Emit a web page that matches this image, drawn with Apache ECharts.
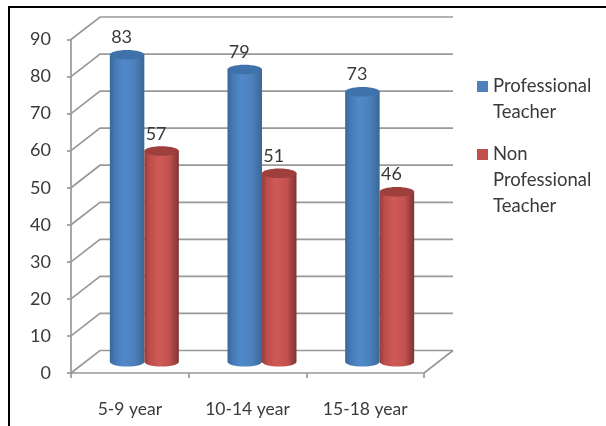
<!DOCTYPE html>
<html><head><meta charset="utf-8">
<style>html,body{margin:0;padding:0;background:#fff}#c{width:606px;height:426px;filter:blur(0.45px)}</style>
<script src="https://cdn.jsdelivr.net/npm/echarts@6/dist/echarts.min.js"></script>
</head><body><div id="c"></div>
<script>
var categories = ['5-9 year', '10-14 year', '15-18 year'];
var professional = [83, 79, 73];
var nonProfessional = [57, 51, 46];
var yTicks = [0, 10, 20, 30, 40, 50, 60, 70, 80, 90];
var seriesNames = ['Professional Teacher', 'Non Professional Teacher'];
var legendLines = [['Professional', 'Teacher'], ['Non', 'Professional', 'Teacher']];

var FONT = 'Lato';
var TXT = '#3a3a3a';
var GRID = '#999999';
var DX = 29, DY = -22.5, BAR = 34.5, RY = 4.8;

function cylinderRender(side, palette) {
  return function (params, api) {
    var cat = api.value(0), val = api.value(1);
    var top = api.coord([cat, val]), base = api.coord([cat, 0]);
    var cx = top[0] + DX / 2 + side * BAR / 2;
    var ty = top[1] + DY / 2 + 0.5, by = base[1] + DY / 2;
    var rx = BAR / 2;
    var k = 0.5523;
    var body = 'M' + (cx - rx) + ' ' + ty + ' L' + (cx - rx) + ' ' + by +
      ' C' + (cx - rx) + ' ' + (by + RY * k) + ' ' + (cx - rx * k) + ' ' + (by + RY) + ' ' + cx + ' ' + (by + RY) +
      ' C' + (cx + rx * k) + ' ' + (by + RY) + ' ' + (cx + rx) + ' ' + (by + RY * k) + ' ' + (cx + rx) + ' ' + by +
      ' L' + (cx + rx) + ' ' + ty + ' Z';
    return {
      type: 'group',
      children: [
        { type: 'path', shape: { pathData: body },
          style: { fill: { type: 'linear', x: 0, y: 0, x2: 1, y2: 0, colorStops: palette.body } } },
        { type: 'ellipse', shape: { cx: cx, cy: ty, rx: rx, ry: RY }, style: { fill: palette.top } },
        { type: 'text', x: cx - 5.5, y: top[1] - 28,
          style: { text: String(val), font: '18px ' + FONT, fill: TXT, align: 'center', verticalAlign: 'middle' } }
      ]
    };
  };
}

function wallRender(params, api) {
  var v = api.value(0);
  var maxCat = categories.length - 1;
  var a = api.coord([0, v]), b = api.coord([maxCat, v]);
  var half = api.size([1, 0])[0] / 2;
  var left = a[0] - half, right = b[0] + half, y = a[1];
  var style = { stroke: GRID, lineWidth: 1.7, fill: null };
  var kids = [
    { type: 'polyline', shape: { points: [[left, y], [left + DX, y + DY], [right + DX, y + DY]] }, style: style }
  ];
  if (v === 0) {
    kids.push({ type: 'line', shape: { x1: right, y1: y, x2: right + DX, y2: y + DY }, style: style });
  }
  return { type: 'group', children: kids };
}

// The swatch sits level with the first line: leading blank lines centre that line on it.
function legendText(name) {
  var lines = legendLines[seriesNames.indexOf(name)];
  return new Array(lines.length).join('\n') + lines.join('\n');
}

var chart = echarts.init(document.getElementById('c'), null, { renderer: 'canvas' });
chart.setOption({
  animation: false,
  backgroundColor: '#fff',
  grid: { left: 71, right: 182, top: 39.5, bottom: 53 },
  xAxis: {
    type: 'category', data: categories,
    axisLine: { lineStyle: { color: GRID, width: 1.7 } },
    axisTick: { show: true, length: 5, lineStyle: { color: GRID, width: 1.7 } },
    axisLabel: { margin: 27, color: TXT, fontFamily: FONT, fontSize: 17.5 }
  },
  yAxis: {
    type: 'value', min: 0, max: 90, interval: 10,
    axisLine: { show: true, lineStyle: { color: GRID, width: 1.7 } },
    axisTick: { show: true, length: 4, lineStyle: { color: GRID, width: 1.7 } },
    splitLine: { show: false },
    axisLabel: { margin: 20, color: TXT, fontFamily: FONT, fontSize: 18 }
  },
  legend: {
    orient: 'vertical', left: 477, top: 47.5, padding: 0,
    data: seriesNames, icon: 'rect', itemWidth: 11, itemHeight: 11, itemGap: -36,
    selectedMode: false, formatter: legendText,
    textStyle: { color: TXT, fontFamily: FONT, fontSize: 18.5, lineHeight: 26 }
  },
  series: [
    { type: 'custom', name: 'walls', renderItem: wallRender, data: yTicks.map(function (v) { return [v]; }),
      encode: { y: 0 }, silent: true, z: 1 },
    { type: 'custom', name: seriesNames[0], itemStyle: { color: '#4f81bd' }, z: 2,
      renderItem: cylinderRender(-1, {
        top: '#3f72aa',
        body: [{ offset: 0, color: '#38679a' }, { offset: 0.15, color: '#4679b4' }, { offset: 0.4, color: '#5089cb' },
               { offset: 0.72, color: '#4c80bc' }, { offset: 1, color: '#3a6896' }]
      }),
      data: professional.map(function (v, i) { return [i, v]; }), encode: { x: 0, y: 1 } },
    { type: 'custom', name: seriesNames[1], itemStyle: { color: '#c0504d' }, z: 3,
      renderItem: cylinderRender(1, {
        top: '#9d3f3d',
        body: [{ offset: 0, color: '#943d3b' }, { offset: 0.15, color: '#bb4e4b' }, { offset: 0.4, color: '#d05956' },
               { offset: 0.72, color: '#c2524f' }, { offset: 1, color: '#803331' }]
      }),
      data: nonProfessional.map(function (v, i) { return [i, v]; }), encode: { x: 0, y: 1 } }
  ],
  graphic: [
    { type: 'line', silent: true, shape: { x1: 9, y1: 7, x2: 606, y2: 7 }, style: { stroke: '#000', lineWidth: 2 } },
    { type: 'line', silent: true, shape: { x1: 9, y1: 6, x2: 9, y2: 426 }, style: { stroke: '#000', lineWidth: 2 } }
  ]
});
</script></body></html>
